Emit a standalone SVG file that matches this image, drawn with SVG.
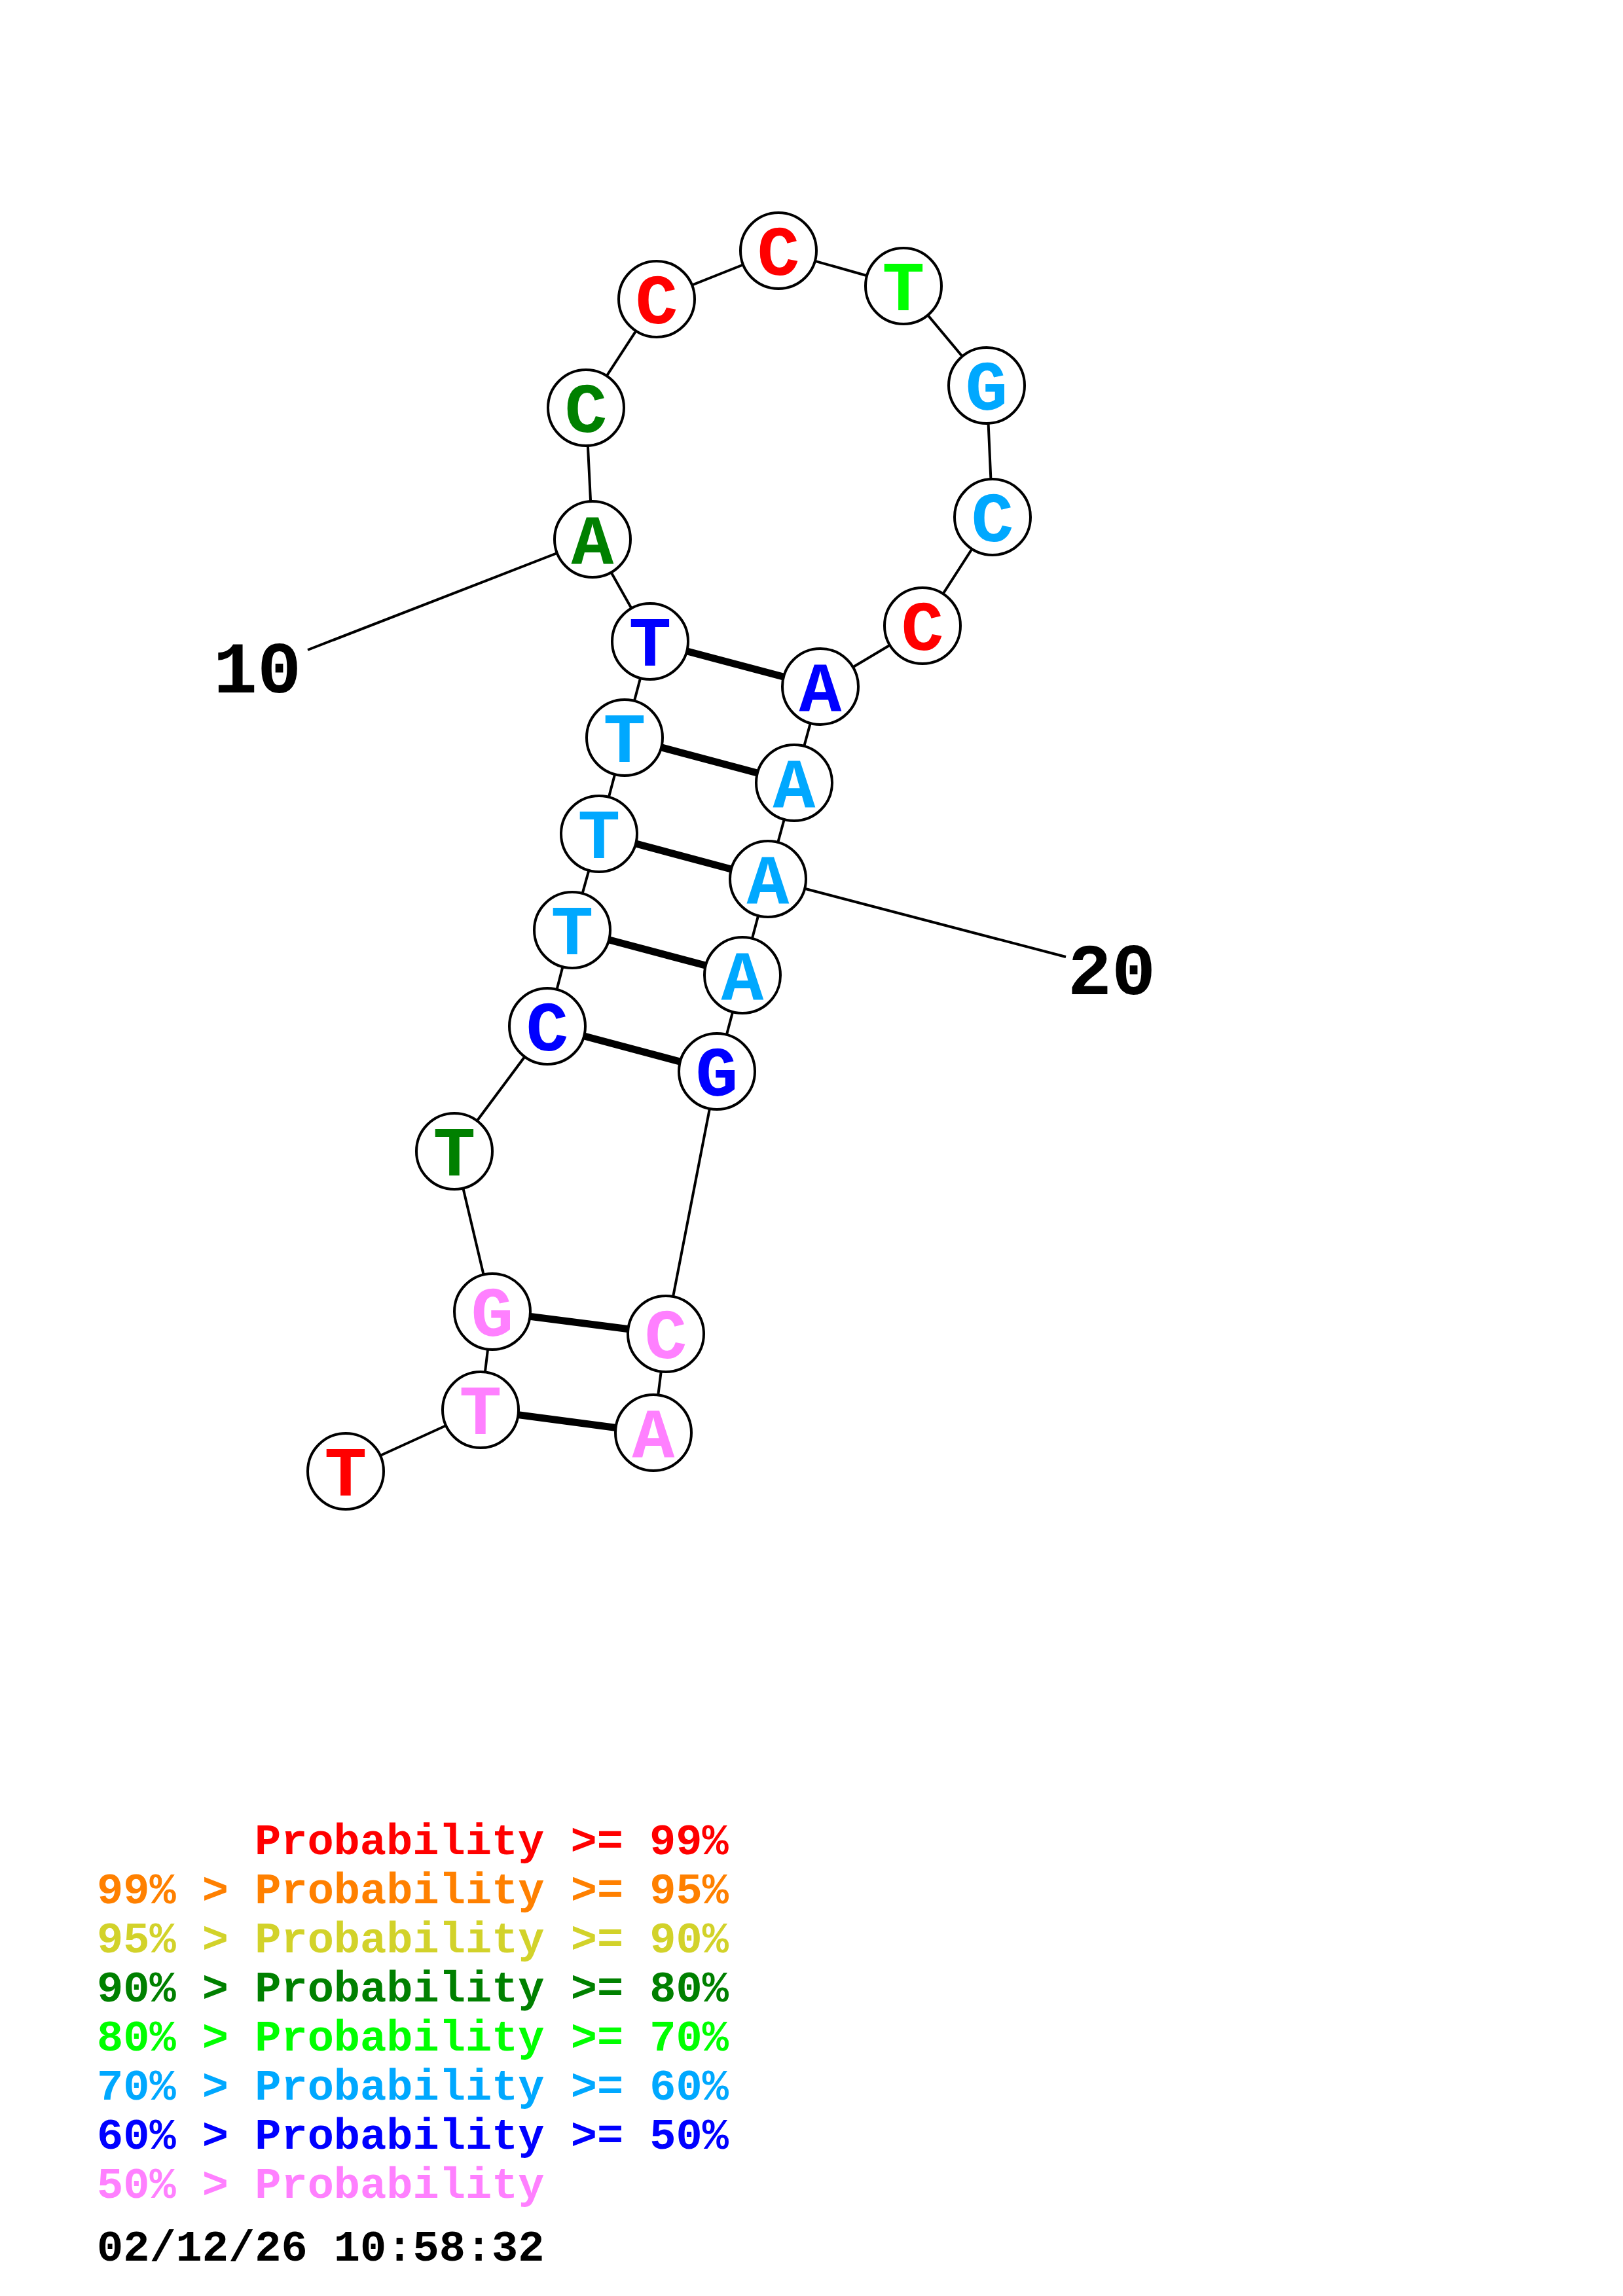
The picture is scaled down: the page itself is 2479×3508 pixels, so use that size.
<svg xmlns="http://www.w3.org/2000/svg" width="2479" height="3508" viewBox="0 0 2479 3508">
<style>
.bb{stroke:#000;stroke-width:4;fill:none}
.bp{stroke:#000;stroke-width:11;fill:none}
.nd circle{fill:#fff;stroke:#000;stroke-width:4}
.nd text{font-family:"Liberation Mono","Courier New",monospace;font-weight:bold;font-size:108px;text-anchor:middle}
.lbl{font-family:"Liberation Mono","Courier New",monospace;font-weight:bold;font-size:112px;fill:#000;text-anchor:middle}
.lg{font-family:"Liberation Mono","Courier New",monospace;font-weight:bold;font-size:67px}
.red{fill:#ff0000}.org{fill:#ff8000}.yel{fill:#d2d22a}.dgr{fill:#008000}.lgr{fill:#00ff00}.lbl2{fill:#00a8ff}.blu{fill:#0000ff}.pnk{fill:#ff80ff}.blk{fill:#000}
</style>
<rect width="2479" height="3508" fill="#fff"/>
<g id="connectors">
<polyline class="bb" points="528,2248 734,2154 752,2004 694,1759 836,1568 874,1421 915,1274 954,1127 993,980 905,824 895,623 1003,457 1189,383 1380,437 1507,589 1516,790 1409,956 1253,1049 1213,1196 1173,1343 1134,1490 1095,1637 1017,2038 998,2189"/>
<line class="bp" x1="734" y1="2154" x2="998" y2="2189"/>
<line class="bp" x1="752" y1="2004" x2="1017" y2="2038"/>
<line class="bp" x1="836" y1="1568" x2="1095" y2="1637"/>
<line class="bp" x1="874" y1="1421" x2="1134" y2="1490"/>
<line class="bp" x1="915" y1="1274" x2="1173" y2="1343"/>
<line class="bp" x1="954" y1="1127" x2="1213" y2="1196"/>
<line class="bp" x1="993" y1="980" x2="1253" y2="1049"/>
<line class="bb" x1="470" y1="993" x2="905" y2="824"/>
<line class="bb" x1="1628" y1="1462" x2="1173" y2="1343"/>
</g>
<g id="n1" class="nd"><circle cx="528" cy="2248" r="58"/><text x="528" y="2285" class="red">T</text></g>
<g id="n2" class="nd"><circle cx="734" cy="2154" r="58"/><text x="734" y="2191" class="pnk">T</text></g>
<g id="n3" class="nd"><circle cx="752" cy="2004" r="58"/><text x="752" y="2041" class="pnk">G</text></g>
<g id="n4" class="nd"><circle cx="694" cy="1759" r="58"/><text x="694" y="1796" class="dgr">T</text></g>
<g id="n5" class="nd"><circle cx="836" cy="1568" r="58"/><text x="836" y="1605" class="blu">C</text></g>
<g id="n6" class="nd"><circle cx="874" cy="1421" r="58"/><text x="874" y="1458" class="lbl2">T</text></g>
<g id="n7" class="nd"><circle cx="915" cy="1274" r="58"/><text x="915" y="1311" class="lbl2">T</text></g>
<g id="n8" class="nd"><circle cx="954" cy="1127" r="58"/><text x="954" y="1164" class="lbl2">T</text></g>
<g id="n9" class="nd"><circle cx="993" cy="980" r="58"/><text x="993" y="1017" class="blu">T</text></g>
<g id="n10" class="nd"><circle cx="905" cy="824" r="58"/><text x="905" y="861" class="dgr">A</text></g>
<g id="n11" class="nd"><circle cx="895" cy="623" r="58"/><text x="895" y="660" class="dgr">C</text></g>
<g id="n12" class="nd"><circle cx="1003" cy="457" r="58"/><text x="1003" y="494" class="red">C</text></g>
<g id="n13" class="nd"><circle cx="1189" cy="383" r="58"/><text x="1189" y="420" class="red">C</text></g>
<g id="n14" class="nd"><circle cx="1380" cy="437" r="58"/><text x="1380" y="474" class="lgr">T</text></g>
<g id="n15" class="nd"><circle cx="1507" cy="589" r="58"/><text x="1507" y="626" class="lbl2">G</text></g>
<g id="n16" class="nd"><circle cx="1516" cy="790" r="58"/><text x="1516" y="827" class="lbl2">C</text></g>
<g id="n17" class="nd"><circle cx="1409" cy="956" r="58"/><text x="1409" y="993" class="red">C</text></g>
<g id="n18" class="nd"><circle cx="1253" cy="1049" r="58"/><text x="1253" y="1086" class="blu">A</text></g>
<g id="n19" class="nd"><circle cx="1213" cy="1196" r="58"/><text x="1213" y="1233" class="lbl2">A</text></g>
<g id="n20" class="nd"><circle cx="1173" cy="1343" r="58"/><text x="1173" y="1380" class="lbl2">A</text></g>
<g id="n21" class="nd"><circle cx="1134" cy="1490" r="58"/><text x="1134" y="1527" class="lbl2">A</text></g>
<g id="n22" class="nd"><circle cx="1095" cy="1637" r="58"/><text x="1095" y="1674" class="blu">G</text></g>
<g id="n23" class="nd"><circle cx="1017" cy="2038" r="58"/><text x="1017" y="2075" class="pnk">C</text></g>
<g id="n24" class="nd"><circle cx="998" cy="2189" r="58"/><text x="998" y="2226" class="pnk">A</text></g>
<g id="labels">
<text class="lbl" x="393" y="1058">10</text>
<text class="lbl" x="1698" y="1519">20</text>
</g>
<g id="legend" class="lg">
<text x="389" y="2833" class="red">Probability &gt;= 99%</text>
<text x="148" y="2908" class="org">99% &gt; Probability &gt;= 95%</text>
<text x="148" y="2983" class="yel">95% &gt; Probability &gt;= 90%</text>
<text x="148" y="3058" class="dgr">90% &gt; Probability &gt;= 80%</text>
<text x="148" y="3133" class="lgr">80% &gt; Probability &gt;= 70%</text>
<text x="148" y="3208" class="lbl2">70% &gt; Probability &gt;= 60%</text>
<text x="148" y="3283" class="blu">60% &gt; Probability &gt;= 50%</text>
<text x="148" y="3358" class="pnk">50% &gt; Probability</text>
<text x="148" y="3454" class="blk">02/12/26 10:58:32</text>
</g>
</svg>
